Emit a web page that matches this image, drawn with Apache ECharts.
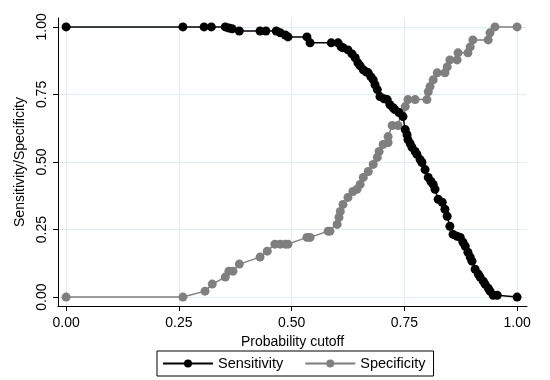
<!DOCTYPE html>
<html>
<head>
<meta charset="utf-8">
<script src="https://cdn.jsdelivr.net/npm/echarts@6/dist/echarts.min.js"></script>
<style>html,body{margin:0;padding:0;background:#fff}#c{width:550px;height:380px}</style>
</head>
<body>
<div id="c"></div>
<script>
var tickValues = [0, 0.25, 0.5, 0.75, 1];

var sensX = [0,0.259,0.306,0.322,0.353,0.361,0.368,0.384,0.430,0.443,0.466,0.475,0.486,0.492,0.534,0.541,0.588,0.603,0.610,0.614,0.625,0.634,0.641,0.647,0.652,0.659,0.665,0.670,0.676,0.681,0.685,0.690,0.696,0.705,0.712,0.718,0.725,0.729,0.738,0.747,0.752,0.756,0.758,0.763,0.767,0.774,0.778,0.785,0.789,0.796,0.803,0.809,0.814,0.818,0.825,0.834,0.840,0.845,0.851,0.858,0.867,0.874,0.880,0.885,0.891,0.896,0.900,0.907,0.914,0.918,0.925,0.929,0.936,0.940,0.947,0.956,1.0];
var sensY = [1.0,1.0,1.0,1.0,1.0,0.996,0.993,0.985,0.985,0.985,0.985,0.978,0.970,0.963,0.963,0.941,0.941,0.941,0.926,0.923,0.915,0.900,0.886,0.867,0.856,0.841,0.834,0.830,0.815,0.804,0.786,0.768,0.742,0.734,0.731,0.712,0.701,0.694,0.683,0.668,0.620,0.601,0.583,0.568,0.554,0.539,0.528,0.509,0.498,0.472,0.443,0.428,0.417,0.399,0.362,0.351,0.325,0.299,0.262,0.232,0.225,0.221,0.203,0.188,0.166,0.148,0.133,0.103,0.085,0.074,0.059,0.048,0.033,0.022,0.007,0.007,0];

var specX = [0,0.259,0.308,0.324,0.353,0.361,0.370,0.384,0.430,0.446,0.463,0.475,0.486,0.492,0.534,0.541,0.581,0.585,0.601,0.605,0.608,0.614,0.625,0.636,0.645,0.652,0.659,0.670,0.681,0.690,0.694,0.703,0.714,0.714,0.723,0.736,0.743,0.752,0.758,0.774,0.800,0.803,0.807,0.814,0.823,0.840,0.845,0.851,0.867,0.869,0.891,0.896,0.902,0.936,0.940,0.951,1.0];
var specY = [0,0,0.022,0.048,0.074,0.096,0.096,0.122,0.148,0.170,0.196,0.196,0.196,0.196,0.221,0.221,0.244,0.244,0.269,0.295,0.317,0.343,0.369,0.391,0.399,0.417,0.443,0.465,0.491,0.517,0.539,0.565,0.572,0.594,0.635,0.635,0.683,0.705,0.731,0.731,0.731,0.760,0.779,0.804,0.830,0.830,0.852,0.878,0.878,0.904,0.904,0.926,0.952,0.952,0.978,1.0,1.0];

function pairs(xs, ys) { return xs.map(function (x, i) { return [x, ys[i]]; }); }

var font = 'Liberation Sans, Arial, sans-serif';
var gridColor = '#e2edf0';

var chart = echarts.init(document.getElementById('c'));
chart.setOption({
  animation: false,
  backgroundColor: '#fff',
  grid: { left: 58, right: 23, top: 18, bottom: 74, containLabel: false },
  xAxis: {
    type: 'value', min: -0.018, max: 1.022,
    name: 'Probability cutoff', nameLocation: 'middle', nameGap: 21,
    nameTextStyle: { fontFamily: font, fontSize: 14, color: '#000' },
    axisLine: { show: true, onZero: false, lineStyle: { color: '#000', width: 1 } },
    axisTick: { show: true, inside: false, length: 5, customValues: tickValues, lineStyle: { color: '#000' } },
    axisLabel: { customValues: tickValues, margin: 10, fontFamily: font, fontSize: 14, color: '#000',
      formatter: function (v) { return v.toFixed(2); } },
    splitLine: { show: true, lineStyle: { color: gridColor, width: 1 } }
  },
  yAxis: {
    type: 'value', min: -0.033, max: 1.033,
    name: 'Sensitivity/Specificity', nameLocation: 'middle', nameGap: 26, nameRotate: 90,
    nameTextStyle: { fontFamily: font, fontSize: 14, color: '#000' },
    axisLine: { show: true, onZero: false, lineStyle: { color: '#000', width: 1 } },
    axisTick: { show: true, inside: false, length: 5, customValues: tickValues, lineStyle: { color: '#000' } },
    axisLabel: { customValues: tickValues, rotate: 90, margin: 9, fontFamily: font, fontSize: 14, color: '#000',
      formatter: function (v) { return v.toFixed(2); } },
    splitLine: { show: true, lineStyle: { color: gridColor, width: 1 } }
  },
  legend: {
    top: 351, left: 157,
    borderColor: '#000', borderWidth: 1, borderRadius: 0,
    padding: [5, 8, 5, 5], itemGap: 21, itemWidth: 50, itemHeight: 10,
    textStyle: { fontFamily: font, fontSize: 14.5, color: '#000' },
    data: ['Sensitivity', 'Specificity']
  },
  series: [
    {
      name: 'Specificity', type: 'line', data: pairs(specX, specY), clip: false,
      symbol: 'circle', symbolSize: 9, z: 2,
      itemStyle: { color: '#7f7f7f' },
      lineStyle: { color: '#7f7f7f', width: 1.5 }
    },
    {
      name: 'Sensitivity', type: 'line', data: pairs(sensX, sensY), clip: false,
      symbol: 'circle', symbolSize: 9, z: 3,
      itemStyle: { color: '#000' },
      lineStyle: { color: '#000', width: 1.5 }
    }
  ]
});
</script>
</body>
</html>
